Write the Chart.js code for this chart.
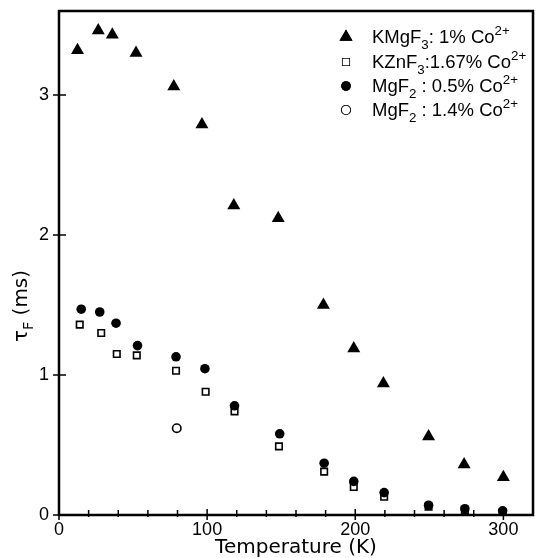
<!DOCTYPE html>
<html>
<head>
<meta charset="utf-8">
<script src="https://cdn.jsdelivr.net/npm/chart.js@4.4.0/dist/chart.umd.min.js"></script>
<style>
  html, body { margin: 0; padding: 0; background: #fff; overflow: hidden; }
  canvas { display: block; }
</style>
</head>
<body>
<canvas id="grafico" width="535" height="558"></canvas>
<script>
// datos
const tempKMgF3 = [12.5, 26.5, 36, 52, 77.5, 96.5, 118, 148, 178.5, 199, 219, 249.5, 273.5, 300];
const tauKMgF3  = [3.32, 3.46, 3.43, 3.30, 3.06, 2.79, 2.21, 2.12, 1.50, 1.19, 0.94, 0.56, 0.36, 0.27];

const tempKZnF3 = [14, 28.5, 39, 52.5, 79, 99, 118.5, 148.5, 179, 199, 219.5, 249.5, 274, 299.5];
const tauKZnF3  = [1.36, 1.30, 1.15, 1.14, 1.03, 0.88, 0.74, 0.49, 0.31, 0.20, 0.13, 0.06, 0.035, 0.02];

const tempMgF2a = [15, 27.5, 38.5, 53, 79, 98.5, 118.5, 149, 179, 199, 219.5, 249.5, 274, 299.5];
const tauMgF2a  = [1.47, 1.45, 1.37, 1.21, 1.13, 1.045, 0.78, 0.58, 0.37, 0.24, 0.16, 0.07, 0.045, 0.03];

const tempMgF2b = [79.5];
const tauMgF2b  = [0.62];

const xTicks = [0, 100, 200, 300];
const xMinorTicks = [20, 40, 60, 80, 120, 140, 160, 180, 220, 240, 260, 280];
const yTicks = [0, 1, 2, 3];

// etiquetas con subindices / superindices
const labelKMgF3 = [['KMgF', ''], ['3', 'sub'], [': 1% Co', ''], ['2+', 'sup']];
const labelKZnF3 = [['KZnF', ''], ['3', 'sub'], [':1.67% Co', ''], ['2+', 'sup']];
const labelMgF2a = [['MgF', ''], ['2', 'sub'], [' : 0.5% Co', ''], ['2+', 'sup']];
const labelMgF2b = [['MgF', ''], ['2', 'sub'], [' : 1.4% Co', ''], ['2+', 'sup']];
const yTitle = [['\u03C4', ''], ['F', 'sub'], [' (ms)', '']];
const xTitle = 'Temperature (K)';

const FONT = '"DejaVu Sans", sans-serif';
const FONT_LEY = '"Liberation Sans", sans-serif';

function toPoints(xs, ys) {
  return xs.map((x, i) => ({ x: x, y: ys[i] }));
}

function drawRich(ctx, parts, x, y, size, fam) {
  let cx = x;
  parts.forEach(([t, mode]) => {
    const s = mode ? size * 0.72 : size;
    ctx.font = s + 'px ' + fam;
    let dy = 0;
    if (mode === 'sub') dy = size * 0.32;
    if (mode === 'sup') dy = -size * 0.45;
    ctx.fillText(t, cx, y + dy);
    cx += ctx.measureText(t).width;
  });
  return cx - x;
}

function richWidth(ctx, parts, size, fam) {
  let w = 0;
  parts.forEach(([t, mode]) => {
    const s = mode ? size * 0.72 : size;
    ctx.font = s + 'px ' + fam;
    w += ctx.measureText(t).width;
  });
  return w;
}

const marcoPlugin = {
  id: 'marco',
  beforeDatasetsDraw(chart) {
    const ctx = chart.ctx;
    const a = chart.chartArea;
    const xs = chart.scales.x;
    const ys = chart.scales.y;
    ctx.save();
    ctx.strokeStyle = '#000';
    ctx.lineWidth = 2.5;
    ctx.strokeRect(a.left, a.top, a.right - a.left, a.bottom - a.top);

    ctx.lineWidth = 1.5;
    ctx.beginPath();
    xMinorTicks.forEach(v => {
      const px = xs.getPixelForValue(v);
      ctx.moveTo(px, a.bottom - 5);
      ctx.lineTo(px, a.bottom + 2);
    });
    xTicks.forEach(v => {
      const px = xs.getPixelForValue(v);
      ctx.moveTo(px, a.bottom - 6);
      ctx.lineTo(px, a.bottom + 5);
    });
    yTicks.forEach(v => {
      const py = ys.getPixelForValue(v);
      ctx.moveTo(a.left - 6, py);
      ctx.lineTo(a.left + 7, py);
    });
    ctx.stroke();
    ctx.restore();
  },
  afterDraw(chart) {
    const ctx = chart.ctx;
    ctx.save();
    ctx.fillStyle = '#000';
    ctx.textBaseline = 'alphabetic';

    // leyenda
    const entradas = [
      { ds: 0, label: labelKMgF3, y: 43 },
      { ds: 2, label: labelKZnF3, y: 68 },
      { ds: 1, label: labelMgF2a, y: 92 },
      { ds: 3, label: labelMgF2b, y: 116 }
    ];
    entradas.forEach(e => {
      const d = chart.data.datasets[e.ds];
      Chart.helpers.drawPoint(ctx, {
        pointStyle: d.pointStyle,
        radius: d.pointRadius,
        borderWidth: d.borderWidth,
        rotation: 0
      }, 346, e.y - 6);
      ctx.fillStyle = d.backgroundColor;
      ctx.strokeStyle = '#000';
      ctx.lineWidth = d.borderWidth;
      if (d.borderWidth > 0) ctx.stroke();
      ctx.fill();
      ctx.fillStyle = '#000';
      drawRich(ctx, e.label, 372, e.y, 18.5, FONT_LEY);
    });

    // titulo eje y
    const w = richWidth(ctx, yTitle, 20, FONT);
    ctx.translate(27, 306);
    ctx.rotate(-Math.PI / 2);
    ctx.fillStyle = '#000';
    drawRich(ctx, yTitle, -w / 2, 0, 20, FONT);
    ctx.restore();
  }
};

function sinPadding(s) {
  s.paddingTop = 0;
  s.paddingBottom = 0;
  s.paddingLeft = 0;
  s.paddingRight = 0;
}

const chart = new Chart(document.getElementById('grafico'), {
  type: 'scatter',
  data: {
    datasets: [
      {
        label: 'KMgF3: 1% Co2+',
        data: toPoints(tempKMgF3, tauKMgF3),
        pointStyle: 'triangle',
        pointRadius: 7.5,
        backgroundColor: '#000',
        borderColor: '#000',
        borderWidth: 0,
        order: 0
      },
      {
        label: 'MgF2 : 0.5% Co2+',
        data: toPoints(tempMgF2a, tauMgF2a),
        pointStyle: 'circle',
        pointRadius: 4.8,
        backgroundColor: '#000',
        borderColor: '#000',
        borderWidth: 0,
        order: 1
      },
      {
        label: 'KZnF3:1.67% Co2+',
        data: toPoints(tempKZnF3, tauKZnF3),
        pointStyle: 'rect',
        pointRadius: 4.6,
        backgroundColor: '#fff',
        borderColor: '#000',
        borderWidth: 1.6,
        order: 2
      },
      {
        label: 'MgF2 : 1.4% Co2+',
        data: toPoints(tempMgF2b, tauMgF2b),
        pointStyle: 'circle',
        pointRadius: 4.2,
        backgroundColor: '#fff',
        borderColor: '#000',
        borderWidth: 1.6,
        order: 3
      }
    ]
  },
  options: {
    responsive: false,
    animation: false,
    devicePixelRatio: 1,
    layout: { autoPadding: false, padding: { top: 11, right: 2, left: 0, bottom: 0 } },
    plugins: {
      legend: { display: false },
      tooltip: { enabled: false }
    },
    scales: {
      x: {
        type: 'linear',
        min: 0,
        max: 320,
        afterBuildTicks: s => { s.ticks = xTicks.map(v => ({ value: v })); },
        afterFit: s => { s.height = 43; sinPadding(s); },
        grid: { display: false, drawTicks: false },
        border: { display: false },
        ticks: {
          autoSkip: false,
          maxRotation: 0,
          padding: 4,
          color: '#000',
          font: { family: '"Liberation Sans", sans-serif', size: 18 }
        },
        title: {
          display: true,
          text: xTitle,
          color: '#000',
          padding: { top: 0, bottom: -2 },
          font: { family: FONT, size: 20 }
        }
      },
      y: {
        type: 'linear',
        min: 0,
        max: 3.6,
        afterBuildTicks: s => { s.ticks = yTicks.map(v => ({ value: v })); },
        afterFit: s => { s.width = 59; sinPadding(s); },
        grid: { display: false, drawTicks: false },
        border: { display: false },
        ticks: {
          padding: 10,
          color: '#000',
          font: { family: '"Liberation Sans", sans-serif', size: 18 }
        }
      }
    }
  },
  plugins: [marcoPlugin]
});
</script>
</body>
</html>
